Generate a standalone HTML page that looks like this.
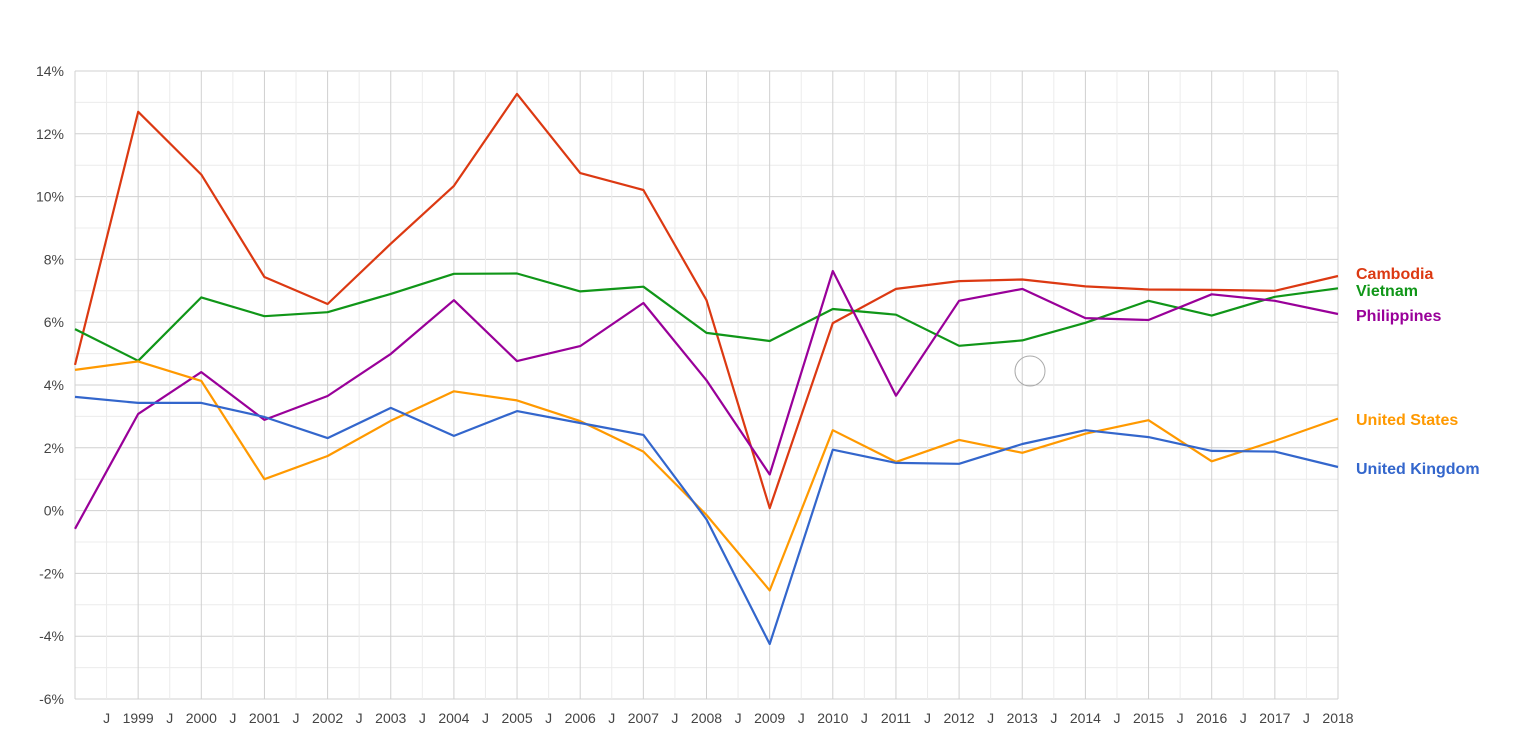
<!DOCTYPE html>
<html><head><meta charset="utf-8"><style>
body{margin:0;background:#fff;width:1526px;height:734px;overflow:hidden;font-family:"Liberation Sans",Arial,sans-serif}
svg text{font-family:"Liberation Sans",Arial,sans-serif}
</style></head><body>
<svg id="chart" width="1526" height="734" xmlns="http://www.w3.org/2000/svg">
<g id="grid"></g>
<g id="axes"></g>
<g id="series"></g>
<g id="legend"></g>
<circle cx="1030" cy="371" r="15" fill="none" stroke="#aaa" stroke-width="1"/>
</svg>
<script>
const years=[1998,1999,2000,2001,2002,2003,2004,2005,2006,2007,2008,2009,2010,2011,2012,2013,2014,2015,2016,2017,2018];
const yTicks=[-6,-4,-2,0,2,4,6,8,10,12,14];
const cambodia=[4.64,12.7,10.7,7.44,6.58,8.5,10.34,13.27,10.75,10.21,6.7,0.08,5.97,7.06,7.31,7.36,7.14,7.04,7.03,7.0,7.47];
const vietnam=[5.78,4.77,6.79,6.19,6.32,6.9,7.54,7.55,6.98,7.13,5.66,5.4,6.42,6.24,5.25,5.42,5.98,6.68,6.21,6.81,7.08];
const philippines=[-0.58,3.08,4.41,2.89,3.65,4.99,6.7,4.76,5.24,6.61,4.15,1.15,7.63,3.66,6.68,7.06,6.13,6.07,6.89,6.68,6.26];
const unitedStates=[4.48,4.75,4.13,1.0,1.74,2.86,3.8,3.51,2.85,1.88,-0.14,-2.54,2.56,1.55,2.25,1.84,2.45,2.88,1.57,2.22,2.93];
const unitedKingdom=[3.62,3.43,3.43,2.98,2.31,3.27,2.38,3.17,2.79,2.41,-0.28,-4.25,1.94,1.52,1.49,2.12,2.56,2.34,1.9,1.88,1.39];
const seriesNames=["Cambodia","Vietnam","Philippines","United States","United Kingdom"];

const X0=75,X1=1338,Y0=71,Y1=699,xMin=1998,xMax=2018,yMin=-6,yMax=14;
const xs=v=>X0+(v-xMin)/(xMax-xMin)*(X1-X0);
const ys=v=>Y0+(yMax-v)/(yMax-yMin)*(Y1-Y0);
const NS="http://www.w3.org/2000/svg";
function mk(tag,attrs,parent){const e=document.createElementNS(NS,tag);for(const k in attrs)e.setAttribute(k,attrs[k]);parent.appendChild(e);return e;}
const grid=document.getElementById('grid'),axes=document.getElementById('axes'),ser=document.getElementById('series'),leg=document.getElementById('legend');

for(let v=yMin;v<=yMax;v+=1){
  const l=mk('line',{x1:X0,x2:X1,y1:ys(v),y2:ys(v),stroke:v%2===0?'#d0d0d0':'#ececec','stroke-width':1},grid);
  
  
}
for(let y=xMin;y<=xMax;y+=0.5){
  const l=mk('line',{x1:xs(y),x2:xs(y),y1:Y0,y2:Y1,stroke:Number.isInteger(y)?'#d0d0d0':'#ececec','stroke-width':1},grid);
  
  
}
yTicks.forEach(v=>{
  const t=mk('text',{x:64,y:ys(v)+5,'text-anchor':'end','font-size':14,fill:'#444'},axes);
  t.textContent=v+'%';
  
  
});
years.forEach((y,i)=>{
  if(i>0){
    const t=mk('text',{x:xs(y),y:723,'text-anchor':'middle','font-size':14,fill:'#444'},axes);
    t.textContent=String(y);
    
    
    const j=mk('text',{x:xs(y-0.5),y:723,'text-anchor':'middle','font-size':14,fill:'#444'},axes);
    j.textContent='J';
    
    
  }
});
const data=[cambodia,vietnam,philippines,unitedStates,unitedKingdom];
const colors=['#dc3912','#109618','#990099','#ff9900','#3366cc'];
const labelY=[274,291,316,420,469];
data.forEach((arr,si)=>{
  const d=arr.map((v,i)=>(i?'L':'M')+xs(years[i]).toFixed(1)+' '+ys(v).toFixed(1)).join(' ');
  const p=mk('path',{d:d,fill:'none',stroke:colors[si],'stroke-width':2.2,'stroke-linejoin':'round'},ser);
  
  
  const t=mk('text',{x:1356,y:labelY[si]+5,'font-size':16,'font-weight':'bold',fill:colors[si]},leg);
  t.textContent=seriesNames[si];
  
  
});
</script>
</body></html>
